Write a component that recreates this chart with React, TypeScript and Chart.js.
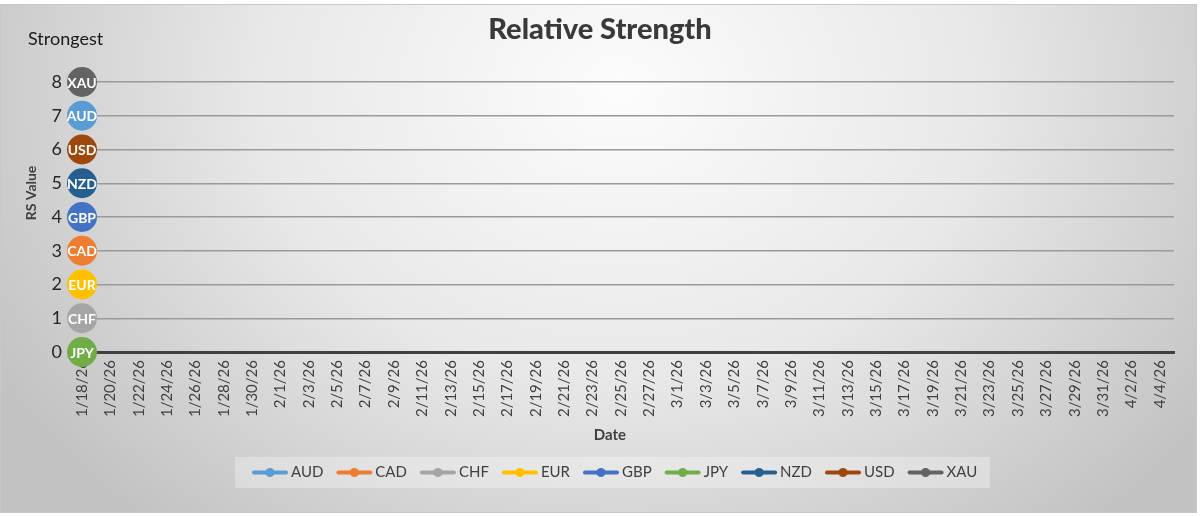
import { useEffect, useRef } from "react";
import { Chart, registerables } from "chart.js";

Chart.register(...registerables);

// categories: one per day, Excel shows every second one
const dateLabels = [
  "1/18/26", "1/19/26", "1/20/26", "1/21/26", "1/22/26", "1/23/26", "1/24/26", "1/25/26",
  "1/26/26", "1/27/26", "1/28/26", "1/29/26", "1/30/26", "1/31/26", "2/1/26", "2/2/26",
  "2/3/26", "2/4/26", "2/5/26", "2/6/26", "2/7/26", "2/8/26", "2/9/26", "2/10/26",
  "2/11/26", "2/12/26", "2/13/26", "2/14/26", "2/15/26", "2/16/26", "2/17/26", "2/18/26",
  "2/19/26", "2/20/26", "2/21/26", "2/22/26", "2/23/26", "2/24/26", "2/25/26", "2/26/26",
  "2/27/26", "2/28/26", "3/1/26", "3/2/26", "3/3/26", "3/4/26", "3/5/26", "3/6/26",
  "3/7/26", "3/8/26", "3/9/26", "3/10/26", "3/11/26", "3/12/26", "3/13/26", "3/14/26",
  "3/15/26", "3/16/26", "3/17/26", "3/18/26", "3/19/26", "3/20/26", "3/21/26", "3/22/26",
  "3/23/26", "3/24/26", "3/25/26", "3/26/26", "3/27/26", "3/28/26", "3/29/26", "3/30/26",
  "3/31/26", "4/1/26", "4/2/26", "4/3/26", "4/4/26", "4/5/26",
];

const currencies = ["AUD", "CAD", "CHF", "EUR", "GBP", "JPY", "NZD", "USD", "XAU"];
const currencyColors = [
  "#5B9BD5", "#ED7D31", "#A5A5A5", "#FFC000", "#4472C4",
  "#70AD47", "#255E91", "#9E480E", "#636363",
];

// RS values (only the first date has data)
const rsAUD = [7];
const rsCAD = [3];
const rsCHF = [1];
const rsEUR = [2];
const rsGBP = [4];
const rsJPY = [0];
const rsNZD = [5];
const rsUSD = [6];
const rsXAU = [8];
const rsSeries = [rsAUD, rsCAD, rsCHF, rsEUR, rsGBP, rsJPY, rsNZD, rsUSD, rsXAU];

const yTicks = [0, 1, 2, 3, 4, 5, 6, 7, 8];

const FONT = "Lato, 'DejaVu Sans', sans-serif";

const backgroundPlugin = {
  id: "excelBackground",
  beforeDraw(chart: Chart) {
    const { ctx, width, height } = chart;
    ctx.save();
    ctx.fillStyle = "#ffffff";
    ctx.fillRect(0, 0, width, height);
    // elliptical radial gradient like Excel's chart fill
    ctx.save();
    ctx.translate(620, 90);
    ctx.scale(1, 0.8);
    const g = ctx.createRadialGradient(0, 0, 0, 0, 0, 720);
    g.addColorStop(0, "#fcfcfc");
    g.addColorStop(0.5, "#e8e8e8");
    g.addColorStop(1, "#c2c2c2");
    ctx.fillStyle = g;
    ctx.fillRect(-700, -200, 1500, 800);
    ctx.restore();
    ctx.fillStyle = "#ffffff";
    ctx.fillRect(0, 0, width, 4);
    ctx.fillRect(1197, 0, width - 1197, height);
    ctx.fillRect(0, 513, width, height - 513);
    ctx.strokeStyle = "#c8c8c8";
    ctx.lineWidth = 1;
    ctx.strokeRect(0.5, 4.5, 1196, 508);
    ctx.restore();
  },
};

const textPlugin = {
  id: "excelTexts",
  afterDraw(chart: Chart) {
    const { ctx } = chart;
    ctx.save();
    ctx.textBaseline = "middle";

    ctx.fillStyle = "#3a3a3a";
    ctx.font = `900 29px ${FONT}`;
    ctx.textAlign = "center";
    ctx.fillText("Relative Strength", 600, 30);

    ctx.fillStyle = "#1a1a1a";
    ctx.font = `18px ${FONT}`;
    ctx.textAlign = "left";
    ctx.fillText("Strongest", 28, 39);

    ctx.fillStyle = "#404040";
    ctx.font = `bold 15px ${FONT}`;
    ctx.textAlign = "center";
    ctx.fillText("Date", 610, 435);

    ctx.save();
    ctx.translate(31, 193);
    ctx.rotate(-Math.PI / 2);
    ctx.font = `bold 14px ${FONT}`;
    ctx.fillText("RS Value", 0, 0);
    ctx.restore();

    // legend box
    ctx.fillStyle = "rgba(255,255,255,0.3)";
    ctx.fillRect(235, 457, 755, 31);
    ctx.font = `15px ${FONT}`;
    ctx.textAlign = "left";
    const legendY = 472.5;
    let x = 252;
    chart.data.datasets.forEach((ds) => {
      const color = ds.borderColor as string;
      ctx.strokeStyle = color;
      ctx.lineWidth = 4;
      ctx.lineCap = "round";
      ctx.beginPath();
      ctx.moveTo(x + 2, legendY);
      ctx.lineTo(x + 34, legendY);
      ctx.stroke();
      ctx.fillStyle = color;
      ctx.beginPath();
      ctx.arc(x + 18, legendY, 4.5, 0, Math.PI * 2);
      ctx.fill();
      ctx.fillStyle = "#404040";
      const label = ds.label as string;
      ctx.fillText(label, x + 39, legendY);
      x += 39 + ctx.measureText(label).width + 13;
    });
    ctx.restore();
  },
};

const pointLabelPlugin = {
  id: "pointLabels",
  afterDatasetsDraw(chart: Chart) {
    const { ctx } = chart;
    ctx.save();
    ctx.fillStyle = "#ffffff";
    ctx.font = `bold 14px ${FONT}`;
    ctx.textAlign = "center";
    ctx.textBaseline = "middle";
    chart.data.datasets.forEach((ds, i) => {
      const meta = chart.getDatasetMeta(i);
      meta.data.forEach((pt, j) => {
        if (ds.data[j] == null) return;
        ctx.fillText(ds.label as string, pt.x, pt.y + 1);
      });
    });
    ctx.restore();
  },
};

export default function App() {
  const canvasRef = useRef<HTMLCanvasElement | null>(null);

  useEffect(() => {
    if (!canvasRef.current) return;
    const ctx = canvasRef.current.getContext("2d");
    if (!ctx) return;

    const chart = new Chart(ctx, {
      type: "line",
      data: {
        labels: dateLabels,
        datasets: currencies.map((name, i) => ({
          label: name,
          data: rsSeries[i],
          borderColor: currencyColors[i],
          backgroundColor: currencyColors[i],
          borderWidth: 2.25,
          pointRadius: 15,
          pointHoverRadius: 15,
          pointBorderWidth: 0,
          clip: false as any,
        })),
      },
      options: {
        animation: false,
        responsive: true,
        maintainAspectRatio: false,
        layout: { padding: { top: 82, right: 20, left: 0, bottom: 0 } },
        plugins: {
          legend: { display: false },
          title: { display: false },
          tooltip: { enabled: false },
        },
        scales: {
          x: {
            offset: false,
            grid: { display: false, drawTicks: false },
            border: { display: true, color: "#404040", width: 3 },
            afterFit: (scale: any) => {
              scale.height = 164;
            },
            ticks: {
              autoSkip: false,
              maxRotation: 90,
              minRotation: 90,
              padding: 8,
              color: "#404040",
              font: { family: FONT, size: 15 },
              callback: (_v: any, idx: number) =>
                idx % 2 === 0 ? dateLabels[idx] : "",
            },
          },
          y: {
            min: yTicks[0],
            max: yTicks[yTicks.length - 1],
            afterFit: (scale: any) => {
              scale.width = 82;
            },
            grid: { color: "#9a9a9a", lineWidth: 1.5, drawTicks: false },
            border: { display: false },
            ticks: {
              stepSize: 1,
              padding: 20,
              color: "#262626",
              font: { family: FONT, size: 18 },
            },
          },
        },
      },
      plugins: [backgroundPlugin, pointLabelPlugin, textPlugin],
    });

    return () => {
      chart.destroy();
    };
  }, []);

  return (
    <div style={{ position: "fixed", left: 0, top: 0, width: 1200, height: 516 }}>
      <canvas ref={canvasRef}></canvas>
    </div>
  );
}
